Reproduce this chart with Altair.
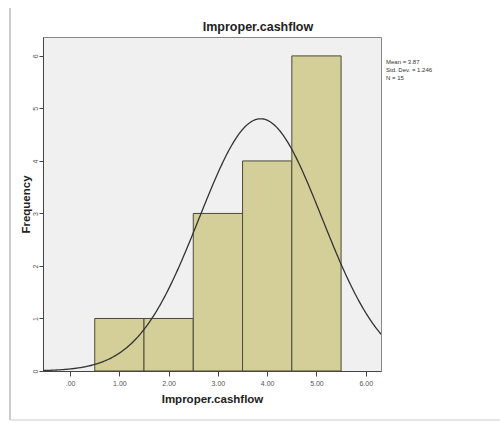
import altair as alt
import pandas as pd

values = [1, 2, 3, 4, 5]
counts = [1, 1, 3, 4, 6]
mean_txt = "Mean = 3.87"
sd_txt = "Std. Dev. = 1.246"
n_txt = "N = 15"
title_txt = "Improper.cashflow"

n = sum(counts)
mean = sum(v * c for v, c in zip(values, counts)) / n
sd = (sum(c * (v - mean) ** 2 for v, c in zip(values, counts)) / (n - 1)) ** 0.5

bars_df = pd.DataFrame({"value": values, "count": counts})

W, H = 338, 334
xscale = alt.Scale(domain=[-0.55, 6.31], nice=False, zero=False)
yscale = alt.Scale(domain=[0, 6.36], nice=False)

FONT = "Liberation Sans"

bars = alt.Chart(bars_df).transform_calculate(
    lo="datum.value - 0.5", hi="datum.value + 0.5"
).mark_rect(color="#d4cf98", stroke="#4a4a3a", strokeWidth=1).encode(
    x=alt.X("lo:Q", scale=xscale, title="Improper.cashflow",
            axis=alt.Axis(values=[0, 1, 2, 3, 4, 5, 6],
                          labelExpr="datum.value == 0 ? '.00' : format(datum.value, '.2f')",
                          labelFontSize=7, labelColor="#555555", tickColor="#444444",
                          domainColor="#444444", tickSize=5, labelPadding=3,
                          titleFontSize=11.5, titleFontWeight="bold", titlePadding=7,
                          titleColor="#222222", grid=False, labelFont=FONT, titleFont=FONT)),
    x2="hi:Q",
    y=alt.Y("count:Q", scale=yscale, title="Frequency",
            axis=alt.Axis(values=[0, 1, 2, 3, 4, 5, 6], labelAngle=270, format="d",
                          labelFontSize=7, labelColor="#555555", tickColor="#444444",
                          domainColor="#444444", tickSize=4, labelPadding=1,
                          labelAlign="center", labelBaseline="bottom",
                          titleFontSize=11.5, titleFontWeight="bold",
                          titleX=-12, titleY=H / 2,
                          titleColor="#222222", grid=False, labelFont=FONT, titleFont=FONT)),
    y2=alt.datum(0),
)

curve = alt.Chart(alt.sequence(-0.6, 6.4, 0.02, as_="x")).transform_calculate(
    y=f"{n} * exp(-0.5 * pow((datum.x - {mean}) / {sd}, 2)) / ({sd} * sqrt(2 * PI))"
).mark_line(color="#333333", strokeWidth=1.3, clip=True).encode(
    x=alt.X("x:Q", scale=xscale),
    y=alt.Y("y:Q", scale=yscale),
)

stats = pd.DataFrame({"t": [mean_txt, sd_txt, n_txt], "i": [0, 1, 2]})
stat_text = alt.Chart(stats).transform_calculate(
    py="25 + datum.i * 8"
).mark_text(align="left", baseline="middle", fontSize=6, color="#333333", font=FONT).encode(
    x=alt.value(W + 5), y=alt.Y("py:Q", scale=None), text="t:N"
)

title = alt.Chart(pd.DataFrame({"t": [title_txt]})).mark_text(
    align="center", baseline="middle", fontSize=12.5, fontWeight="bold", font=FONT, color="#222222"
).encode(x=alt.value(215), y=alt.value(-10), text="t:N")

frame_left = alt.Chart(pd.DataFrame({"a": [0]})).mark_rule(color="#bbbbbb", strokeWidth=1.5, clip=False).encode(
    x=alt.value(-33), y=alt.value(-29), y2=alt.value(H + 49)
)
frame_bottom = alt.Chart(pd.DataFrame({"a": [0]})).mark_rule(color="#dddddd", strokeWidth=1.5, clip=False).encode(
    x=alt.value(-33), x2=alt.value(W + 119), y=alt.value(H + 49)
)

chart = alt.layer(bars, curve, stat_text, title, frame_left, frame_bottom).properties(
    width=W, height=H,
    padding={"left": 43, "top": 37, "right": 119, "bottom": 52},
    autosize=alt.AutoSizeParams(type="none"),
    background="white",
).configure_view(
    fill="#f0f0f0", stroke="#888888", strokeWidth=1
)

chart.save("out.html", embed_options={"renderer": "svg", "actions": False})
